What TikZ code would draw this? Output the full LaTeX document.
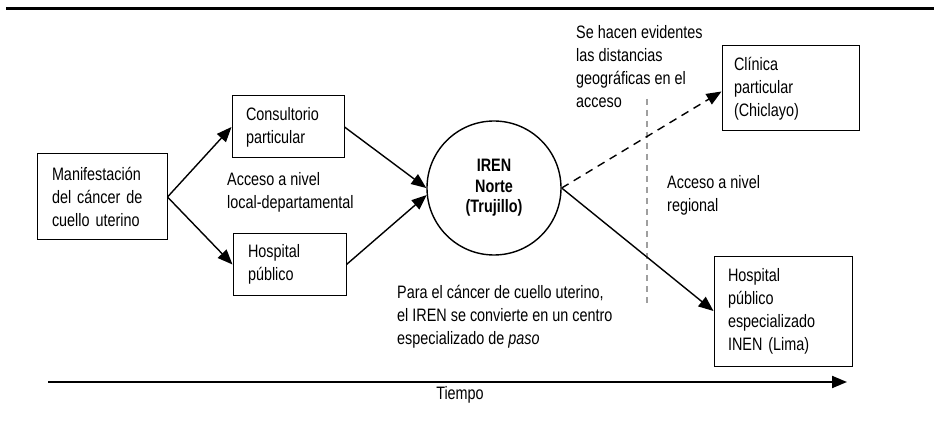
\documentclass[tikz,border=0pt]{standalone}
\usepackage{fontspec}
\setmainfont{Liberation Sans}[FakeStretch=0.8]
\usetikzlibrary{arrows.meta}
\begin{document}
\begin{tikzpicture}[x=1pt,y=-1pt,
  every node/.style={font=\fontsize{18}{23}\selectfont},
  box/.style={draw, line width=1pt, rectangle, align=left, anchor=center},
  txt/.style={align=left, inner sep=0pt, anchor=north west},
  conn/.style={line width=1.4pt, -{Triangle[length=15pt,width=12pt]}},
  dconn/.style={conn, dash pattern=on 8pt off 6pt},
  gline/.style={line width=1.5pt, gray!75, dash pattern=on 6pt off 5pt}
]
\useasboundingbox (0,0) rectangle (937,422);
\draw[line width=3pt] (6,9) -- (934,9);

\node[box, text width=100pt, inner xsep=15pt, minimum height=86pt] (man) at (102,197) {Manifestación\\del cáncer de\\cuello uterino};
\node[box, text width=84pt, inner xsep=14pt, minimum height=62pt] (cons) at (288,127) {Consultorio\\particular};
\node[box, text width=83pt, inner xsep=15pt, minimum height=61pt] (hosp) at (289.5,264.5) {Hospital\\público};
\node[draw, circle, line width=1.4pt, minimum size=134pt, inner sep=0pt, align=center, font=\fontsize{18}{20.5}\selectfont\bfseries] (iren) at (494,188) {IREN\\Norte\\(Trujillo)};
\node[box, text width=113pt, inner xsep=12pt, minimum height=85pt] (clin) at (790.5,88.5) {Clínica\\particular\\(Chiclayo)};
\node[box, text width=110pt, inner xsep=14pt, minimum height=110pt] (inen) at (783,311) {Hospital\\público\\especializado\\INEN (Lima)};

\node[txt] (acc1) at (227,172) {Acceso a nivel\\local-departamental};
\node[txt] (se) at (576,25) {Se hacen evidentes\\las distancias\\geográficas en el\\acceso};
\node[txt] (acc2) at (667,175) {Acceso a nivel\\regional};
\node[txt] (para) at (397,285) {Para el cáncer de cuello uterino,\\el IREN se convierte en un centro\\especializado de \textit{paso}};
\node[inner sep=0pt] (tiempo) at (460,395) {Tiempo};

\coordinate (d1) at (647,99);
\coordinate (d2) at (647,306);
\draw[gline] (d1) -- (d2);

\draw[conn] (man.east) -- (cons.west);
\draw[conn] (man.east) -- (hosp.west);
\draw[conn] (cons.east) -- (iren.west);
\draw[conn] (hosp.east) -- (iren.186);
\draw[dconn] (iren.east) -- ([yshift=-3pt]clin.west);
\draw[conn] (iren.east) -- (inen.west);

\coordinate (t1) at (48,382);
\coordinate (t2) at (847,382);
\draw[line width=2pt, -{Triangle[length=15pt,width=12pt]}] (t1) -- (t2);
\end{tikzpicture}
\end{document}
